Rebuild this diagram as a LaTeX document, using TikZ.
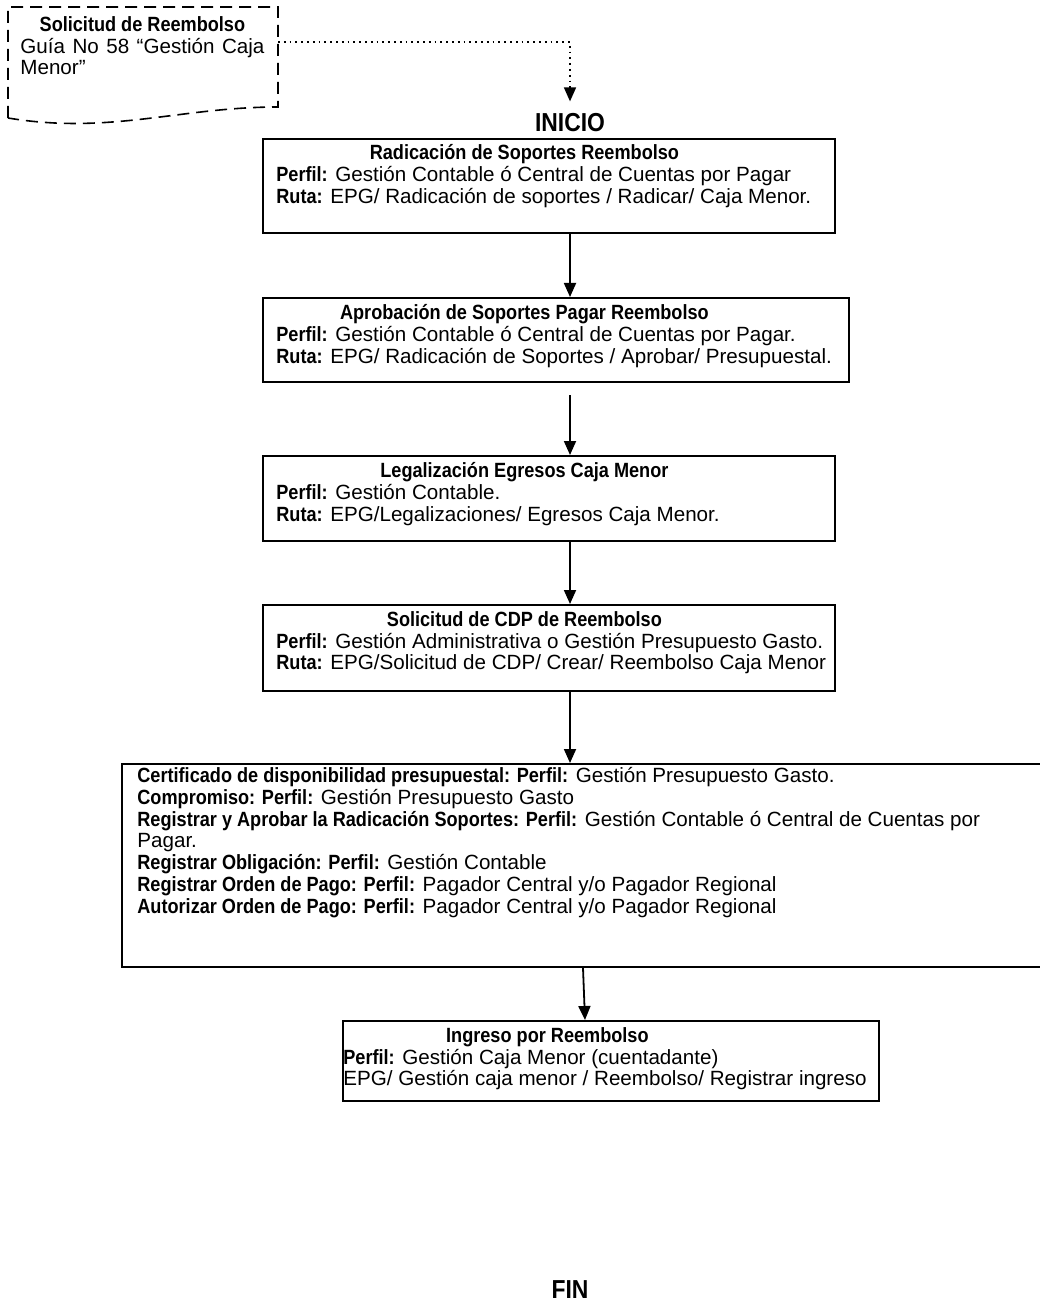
\documentclass[tikz,border=0pt]{standalone}
\usepackage{fontspec}
\setmainfont{Liberation Sans}[BoldFeatures={FakeStretch=0.88}]
\usetikzlibrary{arrows.meta,positioning}

\tikzset{
  caja/.style={draw, line width=1pt, rectangle, inner sep=0pt, anchor=north west},
  texto/.style={anchor=north west, inner sep=0pt, align=left,
    font=\fontsize{10.3}{10.9}\selectfont},
  flecha/.style={-{Triangle[length=7pt,width=6pt]}, line width=0.9pt},
  marca/.style={font=\fontsize{13}{15}\selectfont\bfseries, inner sep=0pt},
  guia/.style={line width=0.8pt, dash pattern=on 6pt off 3.5pt}
}
\newcommand{\tit}[2]{\makebox[#1][c]{\textbf{#2}}}

\begin{document}
\begin{tikzpicture}[x=0.5pt,y=-0.5pt]
  \useasboundingbox (0,0) rectangle (1039,1310);

  % documento de entrada
  \draw[guia] (8,118) -- (8,7) -- (278,7) -- (278,107)
    .. controls (180,107) and (110,135) .. (8,118);
  \node[texto, text width=122pt, align=justify] (docT) at (20,16)
    {\tit{122pt}{Solicitud de Reembolso}\\
     Guía No 58 “Gestión Caja\linebreak Menor”};
  \coordinate (docE) at (278,42);

  \node[marca] (inicio) at (570,123) {INICIO};

  % cajas
  \node[caja, minimum width=286pt, minimum height=47pt] (rad) at (262,138) {};
  \node[caja, minimum width=293pt, minimum height=42pt] (apr) at (262,297) {};
  \node[caja, minimum width=286pt, minimum height=42.5pt] (leg) at (262,455) {};
  \node[caja, minimum width=286pt, minimum height=43pt] (cdp) at (262,604) {};
  \node[caja, minimum width=462pt, minimum height=101.5pt] (cert) at (121,763) {};
  \node[caja, minimum width=268pt, minimum height=40pt] (ing) at (342,1020) {};

  \node[texto] (radT) at (276,144)
    {\tit{248pt}{Radicación de Soportes Reembolso}\\
     \textbf{Perfil:} Gestión Contable ó Central de Cuentas por Pagar\\
     \textbf{Ruta:} EPG/ Radicación de soportes / Radicar/ Caja Menor.};
  \node[texto] (aprT) at (276,304)
    {\tit{248pt}{Aprobación de Soportes Pagar Reembolso}\\
     \textbf{Perfil:} Gestión Contable ó Central de Cuentas por Pagar.\\
     \textbf{Ruta:} EPG/ Radicación de Soportes / Aprobar/ Presupuestal.};
  \node[texto] (legT) at (276,462)
    {\tit{248pt}{Legalización Egresos Caja Menor}\\
     \textbf{Perfil:} Gestión Contable.\\
     \textbf{Ruta:} EPG/Legalizaciones/ Egresos Caja Menor.};
  \node[texto] (cdpT) at (276,611)
    {\tit{248pt}{Solicitud de CDP de Reembolso}\\
     \textbf{Perfil:} Gestión Administrativa o Gestión Presupuesto Gasto.\\
     \textbf{Ruta:} EPG/Solicitud de CDP/ Crear/ Reembolso Caja Menor};
  \node[texto] (certT) at (137,767)
    {\textbf{Certificado de disponibilidad presupuestal: Perfil:} Gestión Presupuesto Gasto.\\
     \textbf{Compromiso: Perfil:} Gestión Presupuesto Gasto\\
     \textbf{Registrar y Aprobar la Radicación Soportes: Perfil:} Gestión Contable ó Central de Cuentas por\\
     Pagar.\\
     \textbf{Registrar Obligación: Perfil:} Gestión Contable\\
     \textbf{Registrar Orden de Pago: Perfil:} Pagador Central y/o Pagador Regional\\
     \textbf{Autorizar Orden de Pago: Perfil:} Pagador Central y/o Pagador Regional};
  \node[texto] (ingT) at (343,1027)
    {\tit{204pt}{Ingreso por Reembolso}\\
     \textbf{Perfil:} Gestión Caja Menor (cuentadante)\\
     EPG/ Gestión caja menor / Reembolso/ Registrar ingreso};

  \node[marca] (fin) at (570,1290) {FIN};

  % conectores
  \coordinate (ax) at (570,0);
  \coordinate (bx) at (583,0);
  \coordinate (cx) at (585,0);
  \draw[flecha, dotted, line width=0.8pt, shorten >=6pt] (docE) -| (inicio.north);
  \draw[flecha] (rad.south -| ax) -- (apr.north -| ax);
  \draw[flecha, shorten <=6pt] (apr.south -| ax) -- (leg.north -| ax);
  \draw[flecha] (leg.south -| ax) -- (cdp.north -| ax);
  \draw[flecha] (cdp.south -| ax) -- (cert.north -| ax);
  \draw[flecha] (cert.south -| bx) -- (ing.north -| cx);
\end{tikzpicture}
\end{document}
